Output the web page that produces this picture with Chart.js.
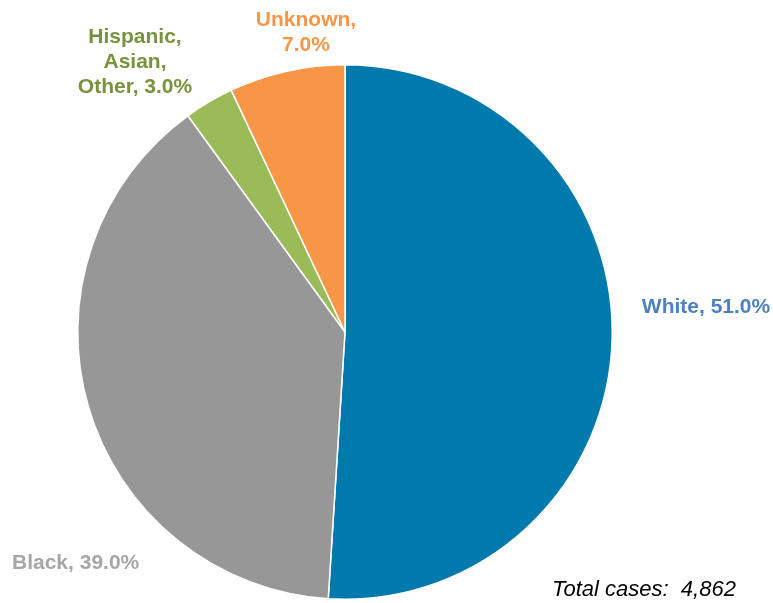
<!DOCTYPE html>
<html>
<head>
<meta charset="utf-8">
<script src="https://cdn.jsdelivr.net/npm/chart.js@4"></script>
<style>
  html, body { margin: 0; padding: 0; background: #fff; }
  canvas { display: block; }
</style>
</head>
<body>
<canvas id="pie" width="773" height="603"></canvas>
<script>
const categories = ["White", "Black", "Hispanic, Asian, Other", "Unknown"];
const shares = [51.0, 39.0, 3.0, 7.0];
const sliceColors = ["#0079AD", "#979797", "#9BBB59", "#F79646"];
const labelColors = ["#4F81BD", "#A6A6A6", "#77933C", "#F79646"];
// label lines as printed on the chart
const labelLines = [
    ["White, 51.0%"],
    ["Black, 39.0%"],
    ["Hispanic,", "Asian,", "Other, 3.0%"],
    ["Unknown,", "7.0%"]
];
const totalCases = "4,862";

// where each label sits (text anchor), plus alignment
const labelSpots = [
    { x: 706, y: 307, align: "center" },
    { x: 12, y: 563, align: "left" },
    { x: 135, y: 37, align: "center" },
    { x: 306, y: 20, align: "center" }
];

const labelPlugin = {
    id: "sliceLabels",
    afterDraw(chart) {
        const ctx = chart.ctx;
        ctx.save();
        ctx.font = "bold 21px 'Liberation Sans', Arial, sans-serif";
        ctx.textBaseline = "middle";
        labelLines.forEach((lines, i) => {
            const spot = labelSpots[i];
            ctx.fillStyle = labelColors[i];
            ctx.textAlign = spot.align;
            lines.forEach((line, j) => {
                ctx.fillText(line, spot.x, spot.y + j * 25);
            });
        });
        ctx.fillStyle = "#000";
        ctx.textAlign = "left";
        ctx.font = "italic 22px 'Liberation Sans', Arial, sans-serif";
        ctx.fillText("Total cases:  " + totalCases, 552, 590);
        ctx.restore();
    }
};

const context = document.getElementById("pie").getContext("2d");
const pieChart = new Chart(context, {
    type: "pie",
    data: {
        labels: categories,
        datasets: [{
            data: shares,
            backgroundColor: sliceColors,
            borderColor: "#fff",
            borderWidth: 1.5,
            hoverOffset: 0
        }]
    },
    options: {
        responsive: false,
        animation: false,
        events: [],
        plugins: {
            legend: { display: false },
            tooltip: { enabled: false }
        },
        layout: {
            padding: { left: 77, right: 160, top: 64, bottom: 3 }
        }
    },
    plugins: [labelPlugin]
});
</script>
</body>
</html>
